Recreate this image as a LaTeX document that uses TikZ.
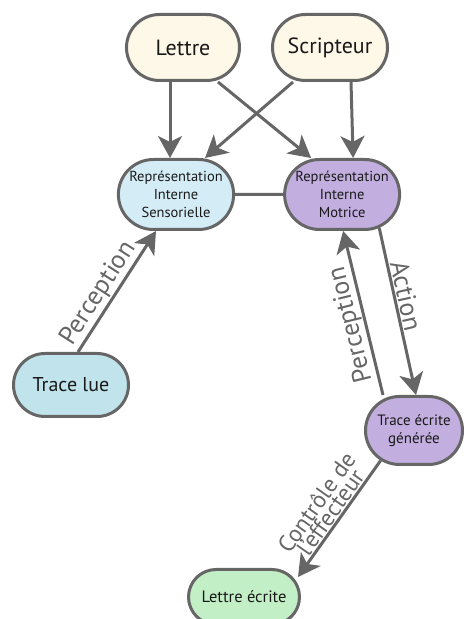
\documentclass[tikz,border=0pt]{standalone}
\usepackage{fontspec}
\setmainfont{PT Sans}
\usetikzlibrary{positioning, arrows.meta, shapes.misc}

\definecolor{creme}{HTML}{FEF8E8}
\definecolor{bleuclair}{HTML}{D4ECF6}
\definecolor{bleutrace}{HTML}{C1E4EC}
\definecolor{violet}{HTML}{C2AEDF}
\definecolor{vert}{HTML}{C3EFC6}
\definecolor{trait}{HTML}{666666}

\begin{document}
\begin{tikzpicture}[
    x=1pt, y=1pt,
    box/.style={rounded rectangle, draw=trait, line width=3pt, align=center, inner sep=2pt, text=black!90},
    arrow/.style={-{Stealth[length=22pt, width=24pt, inset=6pt]}, draw=trait, line width=3pt},
    link/.style={draw=trait, line width=3pt},
    lbl/.style={sloped, align=center, text=trait, font=\fontsize{26}{19}\selectfont, inner sep=1pt}
]
\useasboundingbox (0,0) rectangle (468,619);

% Lettre et Scripteur
\node[box, fill=creme, minimum width=117pt, minimum height=66pt, font=\fontsize{22}{26}\selectfont] (lettre) at (183,571.5) {Lettre};
\node[box, fill=creme, minimum width=119pt, minimum height=66pt, font=\fontsize{22}{26}\selectfont, right=30pt of lettre] (scripteur) {Scripteur};

% Representations internes
\node[box, fill=bleuclair, minimum width=115pt, minimum height=70pt, font=\fontsize{14.5}{18}\selectfont] (sens) at (176,424.5) {Représentation\\Interne\\Sensorielle};
\node[box, fill=violet, minimum width=119pt, minimum height=70pt, font=\fontsize{14.5}{18}\selectfont, right=48pt of sens] (motr) {Représentation\\Interne\\Motrice};

% Traces
\node[box, fill=bleutrace, minimum width=119pt, minimum height=63pt, font=\fontsize{20}{23}\selectfont] (tracelue) at (71,234) {Trace lue};
\node[box, fill=violet, minimum width=101pt, minimum height=68pt, font=\fontsize{15}{18}\selectfont] (tracegen) at (414,188.5) {Trace écrite\\générée};
\node[box, fill=vert, minimum width=115pt, minimum height=55pt, font=\fontsize{16.5}{19}\selectfont] (lecrite) at (244,22) {Lettre écrite};

% Connections
\draw[arrow] ([xshift=-13pt]lettre.south) -- ([xshift=-6pt]sens.north);
\draw[arrow] ([xshift=35pt]lettre.south) -- ([xshift=-31pt]motr.north);
\draw[arrow] ([xshift=-37pt]scripteur.south) -- ([xshift=29pt]sens.north);
\draw[arrow] ([xshift=21pt]scripteur.south) -- ([xshift=11pt]motr.north);
\draw[link] (sens) -- (motr);

\draw[arrow] ([xshift=7pt]tracelue.north) -- node[lbl, above, pos=0.42] {Perception} ([xshift=-20pt]sens.south);
\draw[arrow] (motr.318) -- node[lbl, above, pos=0.42] {Action} ([xshift=2pt]tracegen.north);
\draw[arrow] ([xshift=-31pt]tracegen.north) -- node[lbl, above, allow upside down, pos=0.45] {Perception} ([xshift=1pt]motr.south);
\draw[arrow] (tracegen.222) -- node[lbl, above, font=\fontsize{23.5}{17}\selectfont] {Contrôle de\\l'effecteur} ([shift={(54pt,20pt)}]lecrite.center);

\end{tikzpicture}
\end{document}
